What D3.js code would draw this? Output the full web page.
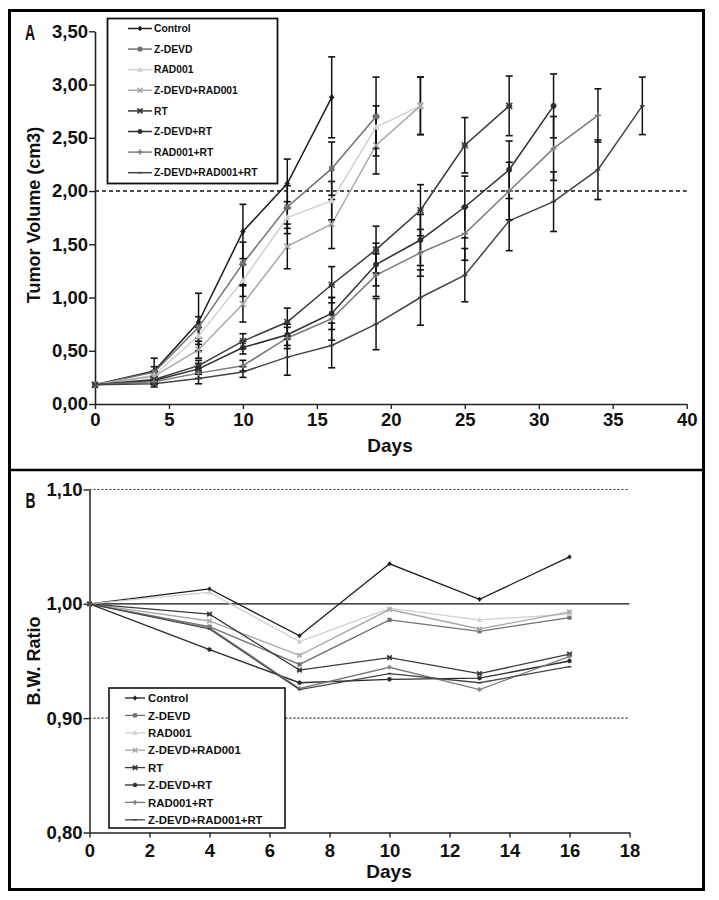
<!DOCTYPE html>
<html><head><meta charset="utf-8">
<script src="https://cdn.jsdelivr.net/npm/d3@7"></script>
<style>
html,body{margin:0;padding:0;background:#fff;}
svg{display:block;}
text{font-family:"Liberation Sans",Arial,sans-serif;font-weight:bold;fill:#111;}
</style></head>
<body>
<svg id="chart" width="719" height="900"></svg>
<script>
// ---------- DATA ----------
const seriesNames = ["Control","Z-DEVD","RAD001","Z-DEVD+RAD001","RT","Z-DEVD+RT","RAD001+RT","Z-DEVD+RAD001+RT"];
const daysA = [0,4,7,10,13,16,19,22,25,28,31,34,37];
const volControl   = [0.18,0.31,0.77,1.62,2.07,2.88];
const volZDEVD     = [0.18,0.30,0.72,1.32,1.85,2.21,2.70];
const volRAD001    = [0.18,0.27,0.64,1.16,1.75,1.91,2.60,2.80];
const volZDEVDRAD  = [0.18,0.26,0.51,0.94,1.48,1.69,2.43,2.80];
const volRT        = [0.18,0.23,0.36,0.59,0.77,1.12,1.45,1.82,2.43,2.80];
const volZDEVDRT   = [0.18,0.22,0.33,0.53,0.65,0.85,1.31,1.54,1.85,2.20,2.80];
const volRADRT     = [0.18,0.21,0.29,0.36,0.62,0.80,1.21,1.42,1.60,2.00,2.40,2.71];
const volAll       = [0.18,0.19,0.24,0.30,0.44,0.55,0.75,1.00,1.21,1.72,1.90,2.20,2.80];
const errControl   = [0,0.12,0.27,0.255,0.23,0.38];
const errZDEVD     = [0,0.05,0.10,0.20,0.20,0.25,0.37];
const errRAD001    = [0,0.04,0.08,0.15,0.15,0.18,0.20,0.27];
const errZDEVDRAD  = [0,0.04,0.08,0.17,0.21,0.23,0.27,0.27];
const errRT        = [0,0.03,0.05,0.07,0.13,0.17,0.22,0.24,0.26,0.28];
const errZDEVDRT   = [0,0.03,0.05,0.06,0.10,0.15,0.20,0.24,0.29,0.27,0.30];
const errRADRT     = [0,0.03,0.05,0.05,0.10,0.20,0.20,0.22,0.25,0.27,0.30,0.25];
const errAll       = [0,0.03,0.05,0.05,0.17,0.21,0.24,0.26,0.25,0.28,0.28,0.28,0.27];
const yTicksA = [0,0.5,1.0,1.5,2.0,2.5,3.0,3.5];
const xTicksA = [0,5,10,15,20,25,30,35,40];

const daysB = [0,4,7,10,13,16];
const bwControl  = [1,1.013,0.972,1.035,1.004,1.041];
const bwZDEVD    = [1,0.980,0.947,0.986,0.976,0.988];
const bwRAD001   = [1,1.010,0.967,0.996,0.986,0.991];
const bwZDEVDRAD = [1,0.985,0.955,0.995,0.978,0.993];
const bwRT       = [1,0.991,0.942,0.953,0.939,0.956];
const bwZDEVDRT  = [1,0.960,0.931,0.934,0.935,0.950];
const bwRADRT    = [1,0.979,0.926,0.9445,0.925,0.954];
const bwAll      = [1,0.978,0.925,0.939,0.931,0.945];
const yTicksB = [0.80,0.90,1.00,1.10];
const xTicksB = [0,2,4,6,8,10,12,14,16,18];

// ---------- STYLE ----------
const colors  = ["#1c1c1c","#707070","#d0d0d0","#a8a8a8","#3a3a3a","#2c2c2c","#7c7c7c","#444444"];
const markers = ["diamond","square","triangle","times","asterisk","circle","plus","dash"];

const volumes = [volControl,volZDEVD,volRAD001,volZDEVDRAD,volRT,volZDEVDRT,volRADRT,volAll];
const errors  = [errControl,errZDEVD,errRAD001,errZDEVDRAD,errRT,errZDEVDRT,errRADRT,errAll];
const bws     = [bwControl,bwZDEVD,bwRAD001,bwZDEVDRAD,bwRT,bwZDEVDRT,bwRADRT,bwAll];

const svg = d3.select("#chart");
svg.append("rect").attr("width",719).attr("height",900).attr("fill","#fff");

function markerPath(type, s){
  const h=s/2;
  switch(type){
    case "diamond": return `M0,${-h}L${h*0.8},0L0,${h}L${-h*0.8},0Z`;
    case "square": return `M${-h*0.8},${-h*0.8}h${h*1.6}v${h*1.6}h${-h*1.6}Z`;
    case "triangle": return `M0,${-h}L${h},${h*0.8}L${-h},${h*0.8}Z`;
    case "circle": return d3.symbol().type(d3.symbolCircle).size(s*s*0.6)();
    case "times": return `M${-h},${-h}L${h},${h}M${-h},${h}L${h},${-h}`;
    case "asterisk": return `M${-h},${-h}L${h},${h}M${-h},${h}L${h},${-h}M${-h},0L${h},0`;
    case "plus": return `M${-h},0L${h},0M0,${-h}L0,${h}`;
    case "dash": return `M${-h*0.8},0L${h*0.8},0`;
  }
}
const filled = t => ["diamond","square","triangle","circle"].includes(t);

function drawMarker(g, type, color, x, y, s){
  const p = g.append("path").attr("d", markerPath(type,s)).attr("transform",`translate(${x},${y})`);
  if(filled(type)) p.attr("fill",color).attr("stroke",color).attr("stroke-width",0.6);
  else p.attr("fill","none").attr("stroke",color).attr("stroke-width",1.6);
}

const fmt = d => d3.format(".2f")(d).replace(".",",");

// ---------- FRAME ----------
svg.append("rect").attr("x",9.5).attr("y",10.5).attr("width",694).attr("height",879)
  .attr("fill","none").attr("stroke","#000").attr("stroke-width",3);
svg.append("line").attr("x1",9).attr("x2",704).attr("y1",470).attr("y2",470)
  .attr("stroke","#000").attr("stroke-width",2.5);

// ---------- PANEL A ----------
const xA = d3.scaleLinear().domain([0,40]).range([95,686.7]);
const yA = d3.scaleLinear().domain([0,3.5]).range([404,31.3]);
const gA = svg.append("g");

// dashed 2.00
gA.append("line").attr("x1",xA(0)).attr("x2",xA(40)).attr("y1",yA(2)).attr("y2",yA(2))
  .attr("stroke","#111").attr("stroke-width",1.6).attr("stroke-dasharray","4,3");

const axAx = gA.append("g").attr("transform",`translate(0,${yA(0)})`)
  .call(d3.axisBottom(xA).tickValues(xTicksA).tickSize(5).tickSizeOuter(0).tickFormat(d3.format("d")));
const axAy = gA.append("g").attr("transform",`translate(${xA(0)},0)`)
  .call(d3.axisLeft(yA).tickValues(yTicksA).tickSize(6).tickSizeOuter(0).tickFormat(fmt));
[axAx,axAy].forEach(a=>{
  a.select(".domain").attr("stroke","#222").attr("stroke-width",1.6);
  a.selectAll(".tick line").attr("stroke","#222").attr("stroke-width",1.4);
  a.selectAll("text").attr("fill","#111").style("font-size","18.5px").style("font-weight","bold")
   .style("font-family","'Liberation Sans',Arial,sans-serif");
});
axAx.selectAll("text").attr("dy","0.71em").attr("y",9);
axAy.selectAll("text").attr("x",-7);

// lines
volumes.forEach((vals,i)=>{
  const pts = vals.map((v,j)=>[daysA[j],v]);
  gA.append("path").datum(pts)
    .attr("d", d3.line().x(d=>xA(d[0])).y(d=>yA(d[1])))
    .attr("fill","none").attr("stroke",colors[i]).attr("stroke-width",1.5);
});
// error bars
volumes.forEach((vals,i)=>{
  vals.forEach((v,j)=>{
    const e = errors[i][j]; if(!e) return;
    const x = xA(daysA[j]);
    gA.append("line").attr("x1",x).attr("x2",x).attr("y1",yA(v-e)).attr("y2",yA(v+e))
      .attr("stroke","#111").attr("stroke-width",1.5);
    [v-e,v+e].forEach(yy=>gA.append("line").attr("x1",x-3.5).attr("x2",x+3.5)
      .attr("y1",yA(yy)).attr("y2",yA(yy)).attr("stroke","#111").attr("stroke-width",1.6));
  });
});
// markers
volumes.forEach((vals,i)=>{
  vals.forEach((v,j)=>drawMarker(gA, markers[i], colors[i], xA(daysA[j]), yA(v), 6));
});

// axis titles
gA.append("text").attr("x",390).attr("y",452).attr("text-anchor","middle")
  .style("font-size","19px").text("Days");
gA.append("text").attr("transform","translate(40,215) rotate(-90)").attr("text-anchor","middle")
  .style("font-size","18px").text("Tumor Volume (cm3)");
gA.append("text").attr("transform","translate(25,40) scale(0.62,1)")
  .style("font-family","'Liberation Sans Narrow','Liberation Sans',sans-serif")
  .style("font-size","22.5px").text("A");

// legend A
const legA = gA.append("g");
legA.append("rect").attr("x",107.5).attr("y",18.5).attr("width",170).attr("height",165)
  .attr("fill","#fff").attr("stroke","#111").attr("stroke-width",1.8);
seriesNames.forEach((n,i)=>{
  const y = 28.5 + i*20.6;
  legA.append("line").attr("x1",128).attr("x2",152).attr("y1",y).attr("y2",y)
    .attr("stroke",colors[i]).attr("stroke-width",1.5);
  drawMarker(legA, markers[i], colors[i], 140, y, 5);
  legA.append("text").attr("x",154).attr("y",y).attr("dy","0.36em")
    .style("font-size","10.3px").text(n);
});

// ---------- PANEL B ----------
const xB = d3.scaleLinear().domain([0,18]).range([89.5,629.5]);
const yB = d3.scaleLinear().domain([0.8,1.1]).range([832.5,489.5]);
const gB = svg.append("g");

[0.9,1.1].forEach(v=>gB.append("line").attr("x1",xB(0)).attr("x2",xB(18)).attr("y1",yB(v)).attr("y2",yB(v))
  .attr("stroke","#333").attr("stroke-width",1.1).attr("stroke-dasharray","2,2"));
gB.append("line").attr("x1",xB(0)).attr("x2",xB(18)).attr("y1",yB(1)).attr("y2",yB(1))
  .attr("stroke","#111").attr("stroke-width",1.3);

const axBx = gB.append("g").attr("transform",`translate(0,${yB(0.8)})`)
  .call(d3.axisBottom(xB).tickValues(xTicksB).tickSize(5).tickSizeOuter(0).tickFormat(d3.format("d")));
const axBy = gB.append("g").attr("transform",`translate(${xB(0)},0)`)
  .call(d3.axisLeft(yB).tickValues(yTicksB).tickSize(6).tickSizeOuter(0).tickFormat(fmt));
[axBx,axBy].forEach(a=>{
  a.select(".domain").attr("stroke","#222").attr("stroke-width",1.5);
  a.selectAll(".tick line").attr("stroke","#222").attr("stroke-width",1.4);
  a.selectAll("text").attr("fill","#111").style("font-size","18.5px").style("font-weight","bold")
   .style("font-family","'Liberation Sans',Arial,sans-serif");
});
axBx.selectAll("text").attr("dy","0.71em").attr("y",11);
axBy.selectAll("text").attr("x",-7);

bws.forEach((vals,i)=>{
  const pts = vals.map((v,j)=>[daysB[j],v]);
  gB.append("path").datum(pts)
    .attr("d", d3.line().x(d=>xB(d[0])).y(d=>yB(d[1])))
    .attr("fill","none").attr("stroke",colors[i]).attr("stroke-width",1.3);
});
bws.forEach((vals,i)=>{
  vals.forEach((v,j)=>drawMarker(gB, markers[i], colors[i], xB(daysB[j]), yB(v), 4.5));
});

gB.append("text").attr("x",389).attr("y",878).attr("text-anchor","middle")
  .style("font-size","19px").text("Days");
gB.append("text").attr("transform","translate(40,661) rotate(-90)").attr("text-anchor","middle")
  .style("font-size","18px").text("B.W. Ratio");
gB.append("text").attr("transform","translate(25.5,508) scale(0.62,1)")
  .style("font-family","'Liberation Sans Narrow','Liberation Sans',sans-serif")
  .style("font-size","22.5px").text("B");

const legB = gB.append("g");
legB.append("rect").attr("x",109).attr("y",688).attr("width",176).attr("height",140)
  .attr("fill","#fff").attr("stroke","#111").attr("stroke-width",1.6);
seriesNames.forEach((n,i)=>{
  const y = 698 + i*17.4;
  legB.append("line").attr("x1",125).attr("x2",145).attr("y1",y).attr("y2",y)
    .attr("stroke",colors[i]).attr("stroke-width",1.3);
  drawMarker(legB, markers[i], colors[i], 135, y, 4.5);
  legB.append("text").attr("x",148).attr("y",y).attr("dy","0.36em")
    .style("font-size","11.4px").text(n);
});
</script>
</body></html>
